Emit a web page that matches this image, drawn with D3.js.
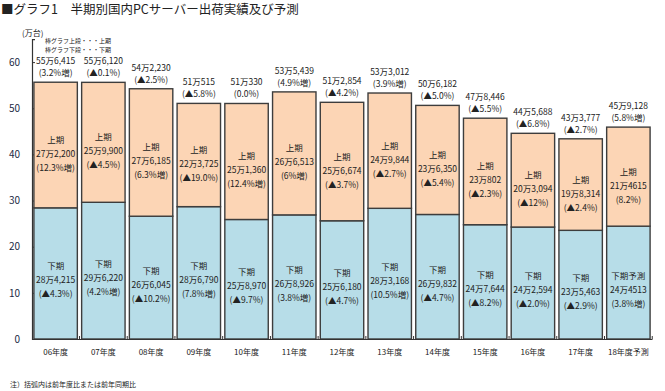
<!DOCTYPE html>
<html>
<head>
<meta charset="utf-8">
<script src="https://cdn.jsdelivr.net/npm/d3@7"></script>
<style>
  body { margin: 0; background: #fff; }
  text { font-family: "Noto Sans CJK JP", "Noto Sans", sans-serif; fill: #222; }
</style>
</head>
<body>
<div id="chart"></div>
<script>
// categories (fiscal years)
var years = ["06年度", "07年度", "08年度", "09年度", "10年度", "11年度", "12年度",
             "13年度", "14年度", "15年度", "16年度", "17年度", "18年度予測"];
// 下期 (bottom segment), 万台
var lowerVals = [28.4215, 29.6220, 26.6045, 28.6790, 25.8970, 26.8926, 25.6180,
                 28.3168, 26.9832, 24.7644, 24.2594, 23.5463, 24.4513];
// 上期 (top segment), 万台
var upperVals = [27.2200, 25.9900, 27.6185, 22.3725, 25.1360, 26.6513, 25.6674,
                 24.9844, 23.6350, 23.0802, 20.3094, 19.8314, 21.4615];

var totalText = ["55万6,415", "55万6,120", "54万2,230", "51万515", "51万330", "53万5,439", "51万2,854",
                 "53万3,012", "50万6,182", "47万8,446", "44万5,688", "43万3,777", "45万9,128"];
var totalPct = ["(3.2%増)", "(▲0.1%)", "(▲2.5%)", "(▲5.8%)", "(0.0%)", "(4.9%増)", "(▲4.2%)",
                "(3.9%増)", "(▲5.0%)", "(▲5.5%)", "(▲6.8%)", "(▲2.7%)", "(5.8%増)"];
var upperText = ["27万2,200", "25万9,900", "27万6,185", "22万3,725", "25万1,360", "26万6,513", "25万6,674",
                 "24万9,844", "23万6,350", "23万802", "20万3,094", "19万8,314", "21万4615"];
var upperPct = ["(12.3%増)", "(▲4.5%)", "(6.3%増)", "(▲19.0%)", "(12.4%増)", "(6%増)", "(▲3.7%)",
                "(▲2.7%)", "(▲5.4%)", "(▲2.3%)", "(▲12%)", "(▲2.4%)", "(8.2%)"];
var lowerText = ["28万4,215", "29万6,220", "26万6,045", "28万6,790", "25万8,970", "26万8,926", "25万6,180",
                 "28万3,168", "26万9,832", "24万7,644", "24万2,594", "23万5,463", "24万4513"];
var lowerPct = ["(▲4.3%)", "(4.2%増)", "(▲10.2%)", "(7.8%増)", "(▲9.7%)", "(3.8%増)", "(▲4.7%)",
                "(10.5%増)", "(▲4.7%)", "(▲8.2%)", "(▲2.0%)", "(▲2.9%)", "(3.8%増)"];
var lowerName = ["下期", "下期", "下期", "下期", "下期", "下期", "下期",
                 "下期", "下期", "下期", "下期", "下期", "下期予測"];
var yTicks = [0, 10, 20, 30, 40, 50, 60];

var width = 665, height = 391;
var margin = {left: 32, right: 13, bottom: 52};

var svg = d3.select("#chart").append("svg")
  .attr("width", width)
  .attr("height", height);

// title
svg.append("text")
  .attr("x", 1).attr("y", 14)
  .style("font-size", "12.5px")
  .text("■グラフ1　半期別国内PCサーバー出荷実績及び予測");

var x = d3.scaleBand()
  .domain(years)
  .range([margin.left, width - margin.right])
  .paddingInner(0.09)
  .paddingOuter(0.04);

var y = d3.scaleLinear()
  .domain([0, 65])
  .range([height - margin.bottom, height - margin.bottom - 65 * 4.615]);

// y axis
var yAxis = svg.append("g")
  .attr("transform", "translate(" + margin.left + ",0)")
  .call(d3.axisLeft(y).tickValues(yTicks).tickSize(-3).tickPadding(12));
yAxis.select(".domain").attr("stroke", "#333").attr("stroke-width", 1.2);
yAxis.selectAll(".tick line").attr("stroke", "#333");
yAxis.selectAll(".tick text").style("font-size", "10px").style("fill", "#1c2a44");

svg.append("text")
  .attr("x", 22).attr("y", 36)
  .style("font-size", "8px")
  .text("(万台)");
svg.append("text")
  .attr("x", 45).attr("y", 43)
  .style("font-size", "6px")
  .text("棒グラフ上段・・・上期");
svg.append("text")
  .attr("x", 45).attr("y", 52)
  .style("font-size", "6px")
  .text("棒グラフ下段・・・下期");

var idx = d3.range(years.length);
var bw = x.bandwidth();

// bottom segments (下期)
svg.selectAll("rect.lower")
  .data(idx)
  .enter().append("rect")
  .attr("class", "lower")
  .attr("x", function(i) { return x(years[i]); })
  .attr("y", function(i) { return y(lowerVals[i]); })
  .attr("width", bw)
  .attr("height", function(i) { return y(0) - y(lowerVals[i]); })
  .attr("fill", "#b7dde8")
  .attr("stroke", "#3d3d3d")
  .attr("stroke-width", 1.4);

// top segments (上期)
svg.selectAll("rect.upper")
  .data(idx)
  .enter().append("rect")
  .attr("class", "upper")
  .attr("x", function(i) { return x(years[i]); })
  .attr("y", function(i) { return y(lowerVals[i] + upperVals[i]); })
  .attr("width", bw)
  .attr("height", function(i) { return y(lowerVals[i]) - y(lowerVals[i] + upperVals[i]); })
  .attr("fill", "#fcd5b5")
  .attr("stroke", "#3d3d3d")
  .attr("stroke-width", 1.4);

// x axis
var xAxis = svg.append("g")
  .attr("transform", "translate(0," + y(0) + ")")
  .call(d3.axisBottom(x).tickSize(0).tickPadding(10));
xAxis.select(".domain").attr("stroke", "#333").attr("stroke-width", 1.2);
xAxis.selectAll(".tick text").style("font-size", "8px");

// small boundary ticks between categories
var step = x.step();
svg.selectAll("line.sep")
  .data(d3.range(years.length))
  .enter().append("line")
  .attr("class", "sep")
  .attr("x1", function(i) { return x(years[i]) + bw + (step - bw) / 2; })
  .attr("x2", function(i) { return x(years[i]) + bw + (step - bw) / 2; })
  .attr("y1", y(0))
  .attr("y2", y(0) - 3)
  .attr("stroke", "#333");

function labelGroup(cls, cy, lines) {
  var g = svg.selectAll("g." + cls)
    .data(idx)
    .enter().append("g")
    .attr("class", cls)
    .attr("transform", function(i) {
      return "translate(" + (x(years[i]) + bw / 2) + "," + cy(i) + ")";
    });
  lines.forEach(function(arr, k) {
    g.append("text")
      .attr("text-anchor", "middle")
      .attr("y", (k - 1) * 14 + 3)
      .style("font-size", "8.5px")
      .text(function(i) { return arr[i]; });
  });
}

// labels inside segments
labelGroup("ulab", function(i) {
  return (y(lowerVals[i]) + y(lowerVals[i] + upperVals[i])) / 2 + 9;
}, [idx.map(function() { return "上期"; }), upperText, upperPct]);

labelGroup("llab", function(i) {
  return (y(0) + y(lowerVals[i])) / 2 + 7;
}, [lowerName, lowerText, lowerPct]);

// totals above bars
var tg = svg.selectAll("g.tot")
  .data(idx)
  .enter().append("g")
  .attr("class", "tot")
  .attr("transform", function(i) {
    return "translate(" + (x(years[i]) + bw / 2) + "," + y(lowerVals[i] + upperVals[i]) + ")";
  });
tg.append("text")
  .attr("text-anchor", "middle")
  .attr("y", -18)
  .style("font-size", "8.5px")
  .text(function(i) { return totalText[i]; });
tg.append("text")
  .attr("text-anchor", "middle")
  .attr("y", -6)
  .style("font-size", "8.5px")
  .text(function(i) { return totalPct[i]; });

// footnote
svg.append("text")
  .attr("x", 10).attr("y", 387)
  .style("font-size", "7px")
  .text("注）括弧内は前年度比または前年同期比");
</script>
</body>
</html>
